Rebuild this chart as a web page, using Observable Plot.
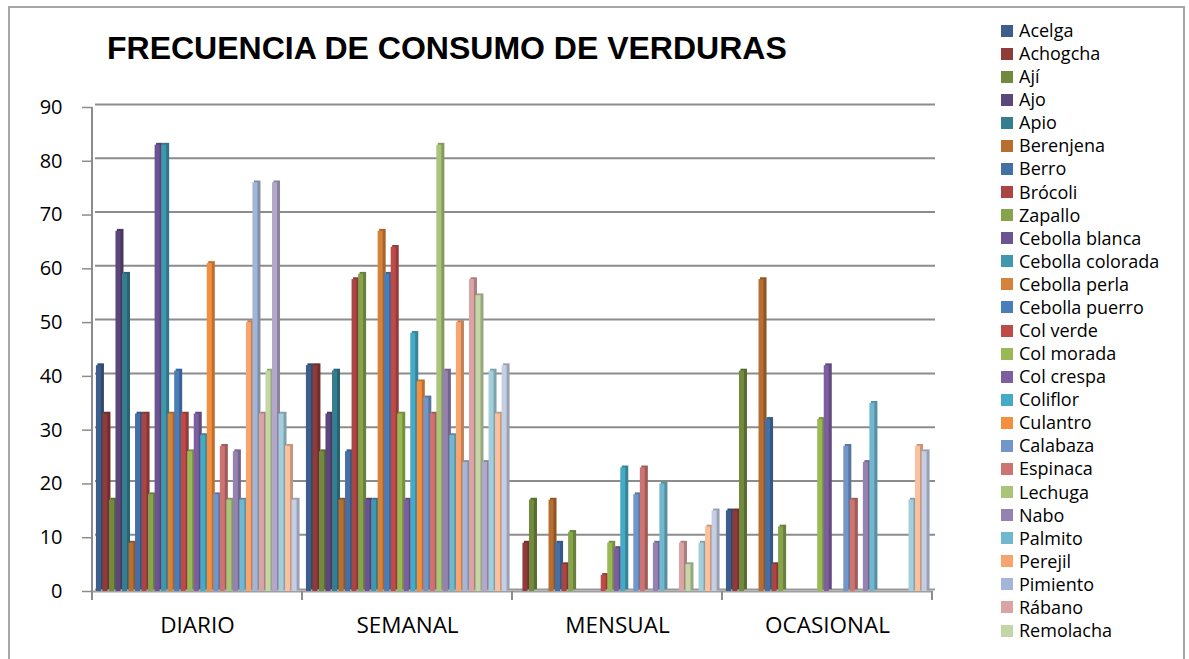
<!DOCTYPE html>
<html>
<head>
<meta charset="utf-8">
<script src="https://cdn.jsdelivr.net/npm/d3@7"></script>
<script src="https://cdn.jsdelivr.net/npm/@observablehq/plot@0.6"></script>
<style>
  html, body { margin: 0; padding: 0; background: #fff; }
  #wrap { position: relative; width: 1189px; height: 659px; overflow: hidden; }
  #frame { position: absolute; left: 8px; top: 6px; width: 1177px; height: 720px; border: 2px solid #a6a6a6; box-sizing: border-box; }
  #title { position: absolute; left: 107px; top: 32px; font: bold 32px "Liberation Sans", Arial, sans-serif; line-height: 32px; white-space: nowrap; color: #000; }
  #legend { position: absolute; left: 1001px; top: 19px; font-family: "Open Sans", sans-serif; font-size: 18px; color: #000; }
  .row { height: 23.08px; line-height: 23.08px; display: flex; align-items: center; white-space: nowrap; }
  .sw { width: 12px; height: 12px; margin-right: 6px; flex: none; }
  #chart { position: absolute; left: 0; top: 0; }
</style>
</head>
<body>
<div id="wrap">
  <div id="frame"></div>
  <div id="chart"></div>
  <div id="title"></div>
  <div id="legend"></div>
</div>
<script>
const titleText = "FRECUENCIA DE CONSUMO DE VERDURAS";
const categories = ["DIARIO", "SEMANAL", "MENSUAL", "OCASIONAL"];
const series = ["Acelga","Achogcha","Ají","Ajo","Apio","Berenjena","Berro","Brócoli","Zapallo",
  "Cebolla blanca","Cebolla colorada","Cebolla perla","Cebolla puerro","Col verde","Col morada",
  "Col crespa","Coliflor","Culantro","Calabaza","Espinaca","Lechuga","Nabo","Palmito","Perejil",
  "Pimiento","Rábano","Remolacha","Serie 28","Serie 29","Serie 30","Serie 31"];
const legendCount = 27; // the reference legend is cut off after "Remolacha"
const colors = ["#3d5e8b","#8e3b3a","#718a3e","#5c477a","#357e90","#b66e31","#4470a8","#a94543","#87a34b",
  "#6c5492","#3f98ae","#d5823a","#4a7ebb","#be4b48","#98b954","#7d5fa0","#46aac4","#f38f3e",
  "#7396c8","#cd7371","#aac57a","#9581b2","#70b8cf","#f8a46e","#a4b6d7","#d9a4a3","#c3d6a6",
  "#b3a8c9","#a3cfdd","#fbc09d","#c4cee5"];
const diario    = [42,33,17,67,59,9,33,33,18,83, 83,33,41,33,26,33,29,61,18,27, 17,26,17,50,76,33,41,76,33,27,17];
const semanal   = [42,42,26,33,41,17,26,58,59,17, 17,67,59,64,33,17,48,39,36,33, 83,41,29,50,24,58,55,24,41,33,42];
const mensual   = [0,9,17,0,0,17,9,5,11,0, 0,0,0,3,9,8,23,0,18,23, 0,9,20,0,0,9,5,0,9,12,15];
const ocasional = [15,15,41,0,0,58,32,5,12,0, 0,0,0,0,32,42,0,0,27,17, 0,24,35,0,0,0,0,0,17,27,26];
const yTicks = [0,10,20,30,40,50,60,70,80,90];

const valuesByCat = [diario, semanal, mensual, ocasional];
const data = [];
categories.forEach((c, ci) => series.forEach((s, si) => data.push({
  cat: c, serie: s, value: valuesByCat[ci][si],
  color: colors[si], side: d3.color(colors[si]).darker(0.7).formatHex()
})));

const plot = Plot.plot({
  width: 1189, height: 659,
  marginLeft: 90, marginRight: 256, marginTop: 107, marginBottom: 68,
  style: {fontFamily: "'Open Sans', sans-serif", color: "#000", background: "transparent"},
  fx: {domain: categories, padding: 0, label: null},
  x: {domain: series, paddingInner: 0, paddingOuter: 0.6, round: false, axis: null},
  y: {domain: [0, 90], label: null},
  color: {type: "identity"},
  marks: [
    Plot.ruleY(yTicks.slice(1), {stroke: "#8c8c8c", strokeWidth: 2, dx: 3, dy: -3}),
    Plot.ruleY([0], {stroke: "#9a9a9a", strokeWidth: 2, dx: 3, dy: -2}),
    Plot.ruleY([0], {stroke: "#a0a0a0", strokeWidth: 2}),
    Plot.barY(data, {fx: "cat", x: "serie", y: "value", fill: "side", dx: 1.5, dy: -1.8}),
    Plot.barY(data, {fx: "cat", x: "serie", y: "value", fill: "color", insetRight: 1.5}),
    Plot.axisY({ticks: yTicks, tickSize: 10, tickPadding: 20, fontSize: 20, stroke: "#8c8c8c", strokeWidth: 1.5, label: null}),
    Plot.axisFx({anchor: "bottom", tickSize: 0, tickPadding: 26, fontSize: 22.5, label: null})
  ]
});
document.getElementById("chart").appendChild(plot);

// axis line and category boundary ticks, positioned from the plot's own scales
const fx = plot.scale("fx"), y = plot.scale("y");
const svg = d3.select(plot);
const x0 = fx.apply(categories[0]);
svg.append("line").attr("x1", x0).attr("x2", x0).attr("y1", y.apply(0) + 1).attr("y2", y.apply(90))
  .attr("stroke", "#8c8c8c").attr("stroke-width", 2);
const bounds = categories.map(c => fx.apply(c)).concat([fx.apply(categories[categories.length - 1]) + fx.bandwidth]);
bounds.forEach(b => svg.append("line").attr("x1", b).attr("x2", b)
  .attr("y1", y.apply(0)).attr("y2", y.apply(0) + 9).attr("stroke", "#8c8c8c").attr("stroke-width", 2));

document.getElementById("title").textContent = titleText;
const legend = d3.select("#legend");
series.slice(0, legendCount).forEach((s, i) => {
  const row = legend.append("div").attr("class", "row");
  row.append("div").attr("class", "sw").style("background", colors[i]);
  row.append("span").text(s);
});
</script>
</body>
</html>
